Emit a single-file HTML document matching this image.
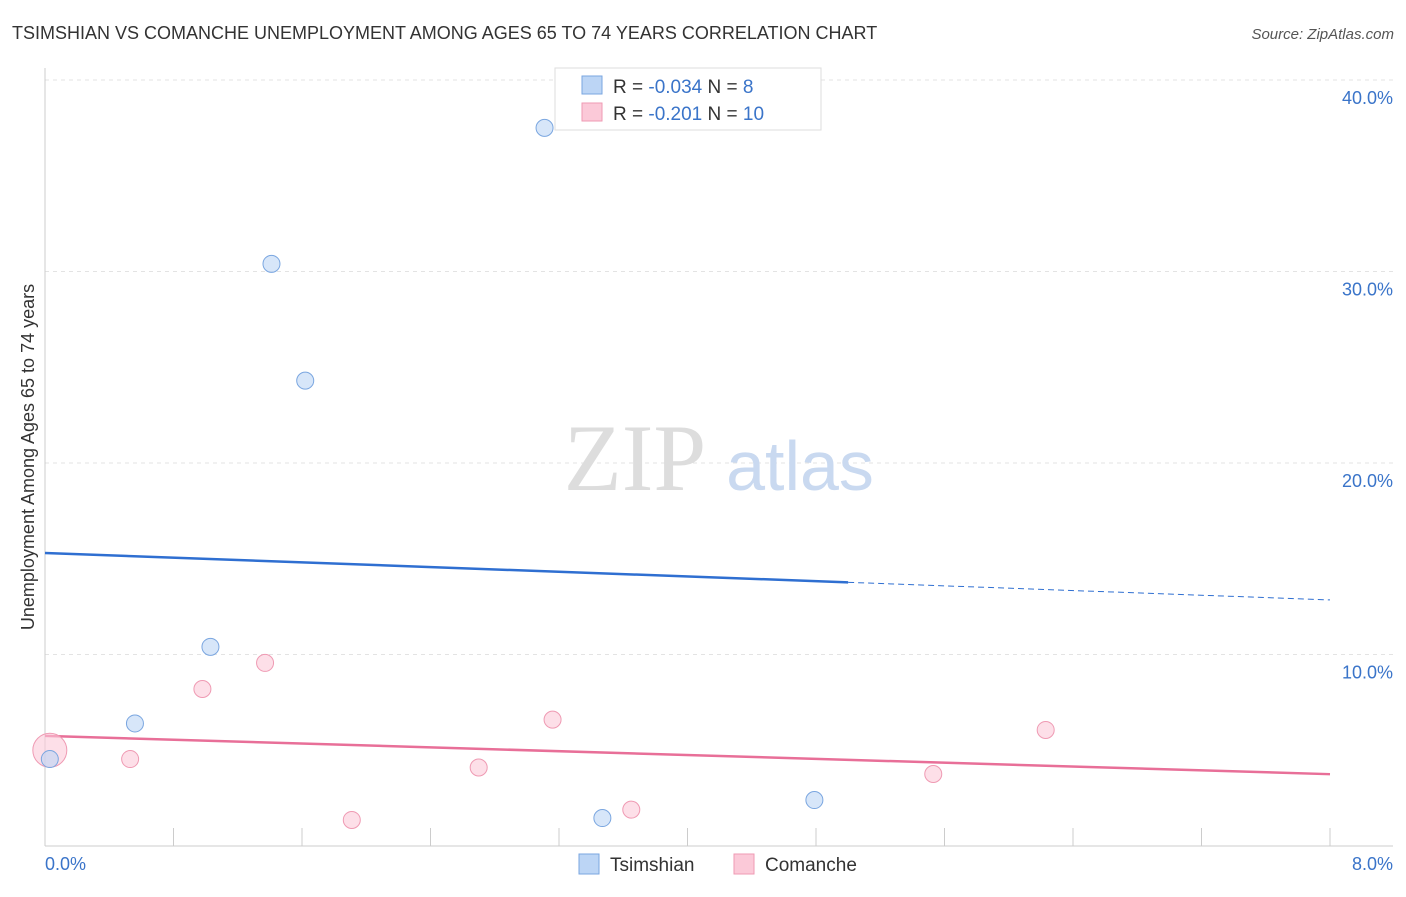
<!DOCTYPE html>
<html><head><meta charset="utf-8"><style>
body{margin:0;background:#fff;font-family:"Liberation Sans",sans-serif}
</style></head><body>
<svg width="1406" height="892" xmlns="http://www.w3.org/2000/svg" style="font-family:'Liberation Sans',sans-serif">
<text x="12" y="39" font-size="18" fill="#333">TSIMSHIAN VS COMANCHE UNEMPLOYMENT AMONG AGES 65 TO 74 YEARS CORRELATION CHART</text>
<text x="1394" y="39" font-size="15" fill="#555" font-style="italic" text-anchor="end">Source: ZipAtlas.com</text>
<g id="grid"></g>
<text x="635" y="490" font-size="95" fill="#ddd" font-family="Liberation Serif" text-anchor="middle">ZIP</text>
<text x="800" y="490" font-size="70" fill="#c9d9f0" text-anchor="middle">atlas</text>
<text transform="translate(34,457) rotate(-90)" font-size="18" fill="#333" text-anchor="middle">Unemployment Among Ages 65 to 74 years</text>
<text x="45" y="870" font-size="18" fill="#3a74c9">0.0%</text>
<text x="1393" y="870" font-size="18" fill="#3a74c9" text-anchor="end">8.0%</text>
<g id="marks"></g>
<g>
<rect x="555" y="68" width="266" height="62" fill="#fff" stroke="#ddd"/>
<rect x="582" y="76" width="20" height="18" fill="#bcd5f5" stroke="#7aa6e0"/>
<rect x="582" y="103" width="20" height="18" fill="#fbc9d8" stroke="#ef9ab3"/>
<text x="613" y="93" font-size="19" fill="#333">R = <tspan fill="#3a74c9">-0.034</tspan>   N =  <tspan fill="#3a74c9">  8</tspan></text>
<text x="613" y="120" font-size="19" fill="#333">R =  <tspan fill="#3a74c9">-0.201</tspan>   N = <tspan fill="#3a74c9">10</tspan></text>
</g>
<g>
<rect x="579" y="854" width="20" height="20" fill="#bcd5f5" stroke="#7aa6e0"/>
<text x="610" y="871" font-size="19" fill="#333">Tsimshian</text>
<rect x="734" y="854" width="20" height="20" fill="#fbc9d8" stroke="#ef9ab3"/>
<text x="765" y="871" font-size="19" fill="#333">Comanche</text>
</g>
</svg>
<script>
const yTicks=[10,20,30,40];
const tsX=[0.03,0.56,1.03,1.41,1.62,3.11,3.47,4.79];
const tsY=[4.54,6.4,10.4,30.4,24.3,37.5,1.46,2.4];
const coX=[0.03,0.53,0.98,1.37,1.91,2.70,3.16,3.65,5.53,6.23];
const coY=[5.0,4.54,8.2,9.56,1.36,4.1,6.6,1.9,3.76,6.06];
const tsTrend=[15.3,12.85];
const coTrend=[5.75,3.75];
const NS='http://www.w3.org/2000/svg';
const sx=v=>45+v/8*1285, sy=v=>846-v*19.15;
function mk(t,a,p){const e=document.createElementNS(NS,t);for(const k in a)e.setAttribute(k,a[k]);p.appendChild(e);return e;}
const g=document.getElementById('grid'), m=document.getElementById('marks');
yTicks.forEach(t=>{
 const l=mk('line',{x1:45,x2:1393,y1:sy(t),y2:sy(t),stroke:'#e3e3e3','stroke-dasharray':'4,4'},g);
 
 
 const tx=mk('text',{x:1393,y:sy(t)+24,'font-size':18,fill:'#3a74c9','text-anchor':'end'},g);tx.textContent=t.toFixed(1)+'%';
 
 
});
const ax=mk('line',{x1:45,x2:45,y1:68,y2:846,stroke:'#ccc'},g);


const bx=mk('line',{x1:45,x2:1393,y1:846,y2:846,stroke:'#ccc'},g);


for(let i=1;i<=10;i++){const tk=mk('line',{x1:sx(i*0.8),x2:sx(i*0.8),y1:828,y2:846,stroke:'#ccc'},g);
 
 }
const f=x=>tsTrend[0]+(tsTrend[1]-tsTrend[0])*x/8;
let l1=mk('line',{x1:sx(0),y1:sy(f(0)),x2:sx(5),y2:sy(f(5)),stroke:'#2f6fd1','stroke-width':2.5},m);


let l2=mk('line',{x1:sx(5),y1:sy(f(5)),x2:sx(8),y2:sy(f(8)),stroke:'#2f6fd1','stroke-width':1,'stroke-dasharray':'6,4'},m);


let l3=mk('line',{x1:sx(0),y1:sy(coTrend[0]),x2:sx(8),y2:sy(coTrend[1]),stroke:'#e86f98','stroke-width':2.5},m);


coX.forEach((x,i)=>{const c=mk('circle',{cx:sx(x),cy:sy(coY[i]),r:i==0?17:8.5,fill:'rgba(251,201,216,0.6)',stroke:'#ef9ab3'},m);
 
 });
tsX.forEach((x,i)=>{const c=mk('circle',{cx:sx(x),cy:sy(tsY[i]),r:8.5,fill:'rgba(188,213,245,0.6)',stroke:'#7aa6e0'},m);
 
 });
</script>
</body></html>
